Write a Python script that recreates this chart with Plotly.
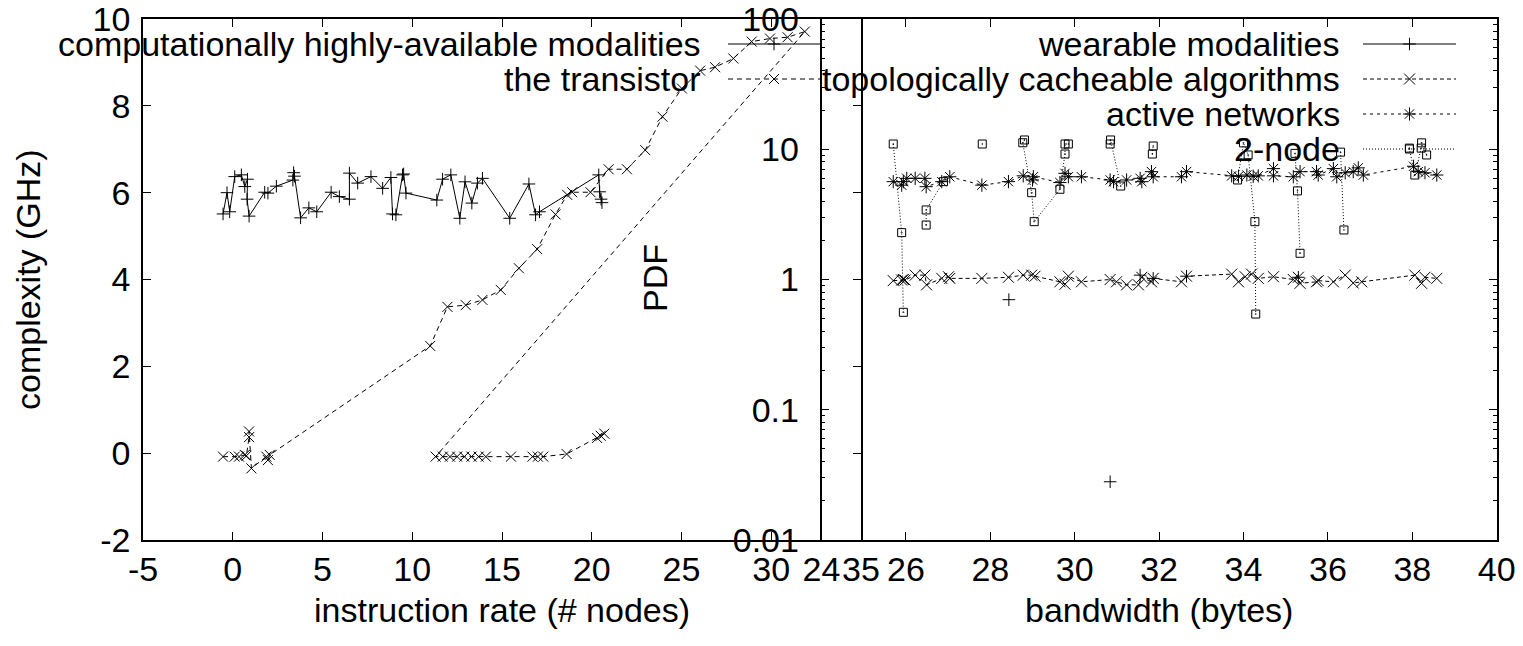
import plotly.graph_objects as go

W, H = 1523, 646
FONT = "Liberation Sans, Arial, Helvetica, sans-serif"
FS = 34

# ---------------- data: left panel ----------------
modal_x = [-0.54, -0.32, -0.17, 0.11, 0.48, 0.67, 0.82, 0.80, 0.91, 1.78, 1.96, 2.43, 3.35, 3.39, 3.44,
           3.78, 4.24, 4.68, 5.48, 5.94, 6.50, 6.50, 6.96, 7.70, 8.35, 8.81, 8.90, 9.09, 9.46, 9.52,
           9.65, 11.37, 11.69, 12.15, 12.65, 12.94, 13.32, 13.63, 13.91, 15.43, 16.50, 16.87, 17.09,
           20.39, 20.44, 20.52, 20.57]
modal_y = [5.51, 6.00, 5.56, 6.37, 6.41, 6.14, 6.31, 5.85, 5.46, 6.01, 5.99, 6.15, 6.29, 6.46, 6.38,
           5.42, 5.65, 5.56, 6.01, 5.91, 5.85, 6.45, 6.22, 6.37, 6.10, 6.35, 5.51, 5.49, 6.41, 6.43,
           5.99, 5.83, 6.31, 6.41, 5.41, 6.25, 5.76, 6.22, 6.33, 5.41, 6.20, 5.49, 5.56,
           6.41, 6.02, 5.85, 5.77]

trans_x = [-0.54, 0.11, 0.35, 0.67, 0.76, 0.91, 0.91, 1.04, 1.87, 1.96, 2.06,
           11.00, 11.96, 12.98, 13.91, 14.93, 15.94, 16.96, 17.98, 18.63, 18.91, 19.93, 20.94,
           21.96, 22.98, 23.94, 25.02, 26.04, 26.87, 27.89, 28.91, 29.93, 30.91, 31.87,
           11.30, 11.70, 12.10, 12.50, 12.90, 13.30, 13.70, 14.10, 15.50, 16.70, 17.00, 17.30,
           18.60, 20.30, 20.50, 20.70]
trans_y = [-0.08, -0.08, -0.08, -0.04, -0.06, 0.37, 0.50, -0.35, -0.08, -0.16, -0.04,
           2.47, 3.37, 3.41, 3.53, 3.76, 4.26, 4.70, 5.50, 5.95, 6.01, 6.01, 6.54,
           6.54, 6.98, 7.75, 8.40, 8.81, 8.89, 9.09, 9.48, 9.55, 9.58, 9.71,
           -0.08, -0.08, -0.08, -0.08, -0.08, -0.08, -0.08, -0.08, -0.08, -0.08, -0.08, -0.08,
           -0.02, 0.35, 0.40, 0.45]

# ---------------- data: right panel ----------------
wear_x = [28.44, None, 30.84, None, 31.55, None, 31.86, None, 32.65, None, 35.30]
wear_y = [0.70, None, 0.028, None, 1.08, None, 1.02, None, 1.06, None, 1.04]

algo_x = [25.70, 25.90, 25.94, 25.98, 26.22, 26.45, 26.49, 26.85, 27.01, 27.04, 27.80, 28.43, 28.78,
          28.98, 29.06, 29.65, 29.77, 29.85, 30.16, 30.84, 30.99, 31.23, 31.51, 31.59, 31.82, 31.86,
          32.53, 32.65, 33.72, 33.88, 34.04, 34.19, 34.35, 34.71, 35.18, 35.30, 35.34, 35.73, 35.77,
          36.13, 36.41, 36.60, 36.80, 38.06, 38.22, 38.30, 38.58]
algo_y = [0.98, 0.99, 1.00, 0.99, 1.08, 1.08, 0.91, 1.02, 1.05, 1.02, 1.02, 1.04, 1.08,
          1.08, 1.06, 0.96, 0.92, 1.06, 0.96, 1.00, 0.96, 0.91, 0.91, 1.04, 0.96, 1.02,
          0.96, 1.06, 1.10, 0.96, 1.05, 1.10, 1.02, 1.05, 1.00, 1.04, 0.935, 0.96, 0.98,
          0.96, 1.08, 0.94, 0.96, 1.08, 0.935, 1.04, 1.02]

net_x = [25.70, 25.90, 25.94, 26.02, 26.22, 26.45, 26.48, 26.85, 27.04, 27.80, 28.43, 28.78, 29.00,
         29.02, 29.65, 29.77, 29.85, 30.16, 30.84, 30.92, 31.23, 31.55, 31.59, 31.82, 31.86, 32.53,
         32.65, 33.72, 33.88, 34.08, 34.23, 34.35, 34.71, 34.71, 35.18, 35.34, 35.73, 35.77, 36.13,
         36.21, 36.41, 36.60, 36.72, 36.84, 38.03, 38.14, 38.30, 38.58]
net_y = [5.64, 5.30, 5.64, 5.98, 5.98, 5.98, 5.16, 5.64, 6.15, 5.30, 5.64, 6.25, 5.81,
         6.15, 5.55, 6.53, 6.15, 6.15, 5.81, 5.64, 5.81, 5.98, 5.64, 6.73, 6.15, 6.15,
         6.73, 6.25, 6.20, 6.34, 6.20, 6.25, 7.10, 6.25, 6.15, 6.73, 6.73, 6.34, 7.10,
         6.15, 6.60, 6.73, 7.20, 6.34, 7.40, 6.73, 6.60, 6.34]

node_x = [25.70, 25.90, 25.94, None, 26.48, 26.48, 26.89, None, 27.81, None,
          28.81, 28.77, 28.98, 29.04, 29.65, 29.77, 29.77, 29.85, None,
          30.84, 30.85, 31.09, None, 31.84, 31.86, None,
          33.86, 34.00, 34.11, 34.27, 34.29, None, 35.22, 35.28, 35.34, None,
          36.30, 36.38, None, 37.93, 38.06, 38.21, 38.22, 38.34]
node_y = [10.97, 2.29, 0.56, None, 2.62, 3.42, 5.64, None, 10.97, None,
          11.78, 11.22, 4.64, 2.78, 4.93, 9.19, 10.97, 10.97, None,
          10.97, 11.78, 5.22, None, 9.19, 10.59, None,
          5.81, 11.20, 9.04, 2.78, 0.543, None, 9.30, 4.79, 1.59, None,
          9.50, 2.40, None, 10.20, 6.34, 10.20, 11.20, 9.04]

left_x_ticks = [-5, 0, 5, 10, 15, 20, 25, 30, 35]
left_x_text = ["-5", "0", "5", "10", "15", "20", "25", "30", "35"]
left_y_ticks = [-2, 0, 2, 4, 6, 8, 10]
left_y_text = ["-2", "0", "2", "4", "6", "8", "10"]
right_x_ticks = [24, 26, 28, 30, 32, 34, 36, 38, 40]
right_x_text = ["24", "26", "28", "30", "32", "34", "36", "38", "40"]
right_y_ticks = [0.01, 0.1, 1, 10, 100]
right_y_text = ["0.01", "0.1", "1", "10", "100"]

left_names = ["computationally highly-available modalities", "the transistor"]
right_names = ["wearable modalities", "topologically cacheable algorithms", "active networks", "2-node"]

# ---------------- styles ----------------
def mk(symbol, size):
    return dict(symbol=symbol, size=size, color="black", line=dict(color="black", width=1))

S_MODAL = dict(line=dict(color="black", width=1), marker=mk("cross-thin-open", 9))
S_TRANS = dict(line=dict(color="black", width=1, dash="5px,4px"), marker=mk("x-thin-open", 10))
S_WEAR = dict(line=dict(color="black", width=1), marker=mk("cross-thin-open", 9))
S_ALGO = dict(line=dict(color="black", width=1, dash="4px,3px"), marker=mk("x-thin-open", 11))
S_NET = dict(line=dict(color="black", width=1, dash="3px,4px"), marker=mk("asterisk-open", 11))
S_NODE = dict(line=dict(color="black", width=1, dash="1px,2px"), marker=mk("square-open-dot", 8))

fig = go.Figure()

def add(x, y, style, xa, ya):
    fig.add_trace(go.Scatter(x=x, y=y, mode="lines+markers", connectgaps=False,
                             xaxis=xa, yaxis=ya, showlegend=False, hoverinfo="skip", **style))

add(modal_x, modal_y, S_MODAL, "x", "y")
add(trans_x, trans_y, S_TRANS, "x", "y")
add(wear_x, wear_y, S_WEAR, "x2", "y2")
add(algo_x, algo_y, S_ALGO, "x2", "y2")
add(net_x, net_y, S_NET, "x2", "y2")
add(node_x, node_y, S_NODE, "x2", "y2")

# ---------------- gnuplot-style keys (text left, sample right) ----------------
annotations = []
def key(name, style, text_right, x0, x1, ypix):
    fig.add_trace(go.Scatter(x=[x0, x1], y=[ypix, ypix], mode="lines", line=style["line"],
                             xaxis="x3", yaxis="y3", showlegend=False, hoverinfo="skip"))
    fig.add_trace(go.Scatter(x=[(x0 + x1) / 2], y=[ypix], mode="markers", marker=style["marker"],
                             xaxis="x3", yaxis="y3", showlegend=False, hoverinfo="skip"))
    annotations.append(dict(text=name, xref="paper", yref="paper", x=text_right / W, y=1 - ypix / H,
                            xanchor="right", yanchor="middle", showarrow=False,
                            font=dict(family=FONT, size=FS, color="black")))

key(left_names[0], S_MODAL, 703, 728, 820, 44)
key(left_names[1], S_TRANS, 703, 728, 820, 79)
key(right_names[0], S_WEAR, 1342, 1363, 1456, 44)
key(right_names[1], S_ALGO, 1342, 1363, 1456, 79)
key(right_names[2], S_NET, 1342, 1363, 1456, 114)
key(right_names[3], S_NODE, 1342, 1363, 1456, 149)

def title(text, xpix, ypix, angle=0):
    annotations.append(dict(text=text, xref="paper", yref="paper", x=xpix / W, y=1 - ypix / H,
                            xanchor="center", yanchor="middle", showarrow=False, textangle=angle,
                            font=dict(family=FONT, size=FS, color="black")))

title("complexity (GHz)", 28, 280, -90)
title("instruction rate (# nodes)", 502, 610)
title("PDF", 655, 278, -90)
title("bandwidth (bytes)", 1159, 610)

TOP, BOT = 19, 540
ydom = [1 - BOT / H, 1 - TOP / H]
axcommon = dict(showgrid=False, zeroline=False, showline=True, linecolor="black", linewidth=1.5,
                ticks="inside", ticklen=8, tickwidth=1, tickcolor="black", mirror="ticks",
                automargin=False, tickmode="array", ticklabeloverflow="allow",
                tickfont=dict(family=FONT, size=FS, color="black"))

minor_vals = [m * 10 ** e for e in range(-2, 2) for m in range(2, 10)]

fig.update_layout(
    template="none",
    width=W, height=H, margin=dict(l=0, r=0, t=0, b=0, pad=0), autosize=False,
    paper_bgcolor="white", plot_bgcolor="rgba(0,0,0,0)",
    showlegend=False,
    xaxis=dict(domain=[143 / W, 861 / W], range=[-5, 35.0001], tickvals=left_x_ticks, ticktext=left_x_text,
               anchor="y", ticklabelstandoff=-2, **axcommon),
    yaxis=dict(domain=ydom, range=[-2.0001, 10.0001], tickvals=left_y_ticks, ticktext=left_y_text,
               anchor="x", ticklabelstandoff=4, **axcommon),
    xaxis2=dict(domain=[821.5 / W, 1496.7 / W], range=[23.9999, 40.0001], tickvals=right_x_ticks,
                ticktext=right_x_text, anchor="y2", ticklabelstandoff=-2, **axcommon),
    yaxis2=dict(domain=ydom, type="log", range=[-2.00001, 2.00001], tickvals=right_y_ticks, ticktext=right_y_text,
                anchor="x2", ticklabelstandoff=14,
                minor=dict(ticks="inside", ticklen=4, tickcolor="black", tickvals=minor_vals, showgrid=False),
                **axcommon),
    xaxis3=dict(domain=[0, 1], range=[0, W], visible=False, anchor="y3", fixedrange=True, automargin=False),
    yaxis3=dict(domain=[0, 1], range=[H, 0], visible=False, anchor="x3", fixedrange=True, automargin=False),
    annotations=annotations,
)

fig.write_html("out.html", config={"displayModeBar": False},
               post_script="document.body.style.margin='0';")
